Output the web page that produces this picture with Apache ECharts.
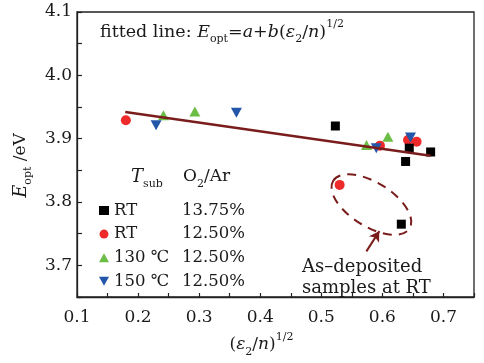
<!DOCTYPE html>
<html><head><meta charset="utf-8">
<script src="https://cdn.jsdelivr.net/npm/echarts@6/dist/echarts.min.js"></script>
<style>html,body{margin:0;padding:0;background:#fff}#c{width:484px;height:363px}</style>
</head><body><div id="c"></div>
<script>
// ---- data ----
const seriesNames = ['RT 13.75%', 'RT 12.50%', '130 ℃ 12.50%', '150 ℃ 12.50%'];
const rt1375X = [0.523, 0.644, 0.638, 0.679, 0.631];
const rt1375Y = [3.920, 3.885, 3.864, 3.879, 3.765];
const rt1250X = [0.180, 0.596, 0.642, 0.656, 0.530];
const rt1250Y = [3.929, 3.889, 3.898, 3.895, 3.827];
const t130X = [0.2415, 0.293, 0.574, 0.609];
const t130Y = [3.937, 3.943, 3.890, 3.903];
const t150X = [0.2295, 0.361, 0.590, 0.646];
const t150Y = [3.921, 3.941, 3.885, 3.902];
const fitX = [0.179, 0.679];
const fitY = [3.942, 3.873];
const xTickLabels = ['0.1', '0.2', '0.3', '0.4', '0.5', '0.6', '0.7'];
const yTickLabels = ['3.7', '3.8', '3.9', '4.0', '4.1'];
// annotation (data coords)
const ellipseCenter = [0.582, 3.796];
const arrowFrom = [0.5738, 3.722];
const arrowTo = [0.595, 3.754];

const zip = (xs, ys) => xs.map((x, i) => [x, ys[i]]);
const FF = 'DejaVu Serif';
const TC = '#1a1a1a';
const DARK = '#7a1c1c';

const chart = echarts.init(document.getElementById('c'), null, {renderer: 'canvas'});
const fmt = (list) => (v) => { const s = (Math.round(v * 100) / 100).toFixed(1); return (Math.abs(v * 10 - Math.round(v * 10)) < 1e-6 && list.includes(s)) ? s : ''; };

const option = {
  animation: false,
  backgroundColor: '#fff',
  grid: {left: 77, right: 10, top: 12, bottom: 58, show: true, borderColor: '#222', borderWidth: 1.3},
  xAxis: {
    type: 'value', min: 0.1, max: 0.75, interval: 0.05,
    splitLine: {show: false},
    axisLine: {show: true, lineStyle: {color: '#222', width: 1.3}},
    axisTick: {show: true, inside: true, length: 4, lineStyle: {color: '#222', width: 1.2}},
    axisLabel: {formatter: fmt(xTickLabels), fontFamily: FF, fontSize: 17, color: TC, margin: 12},
    name: '{p|(}{i|ε}{s|2}{p|/}{i|n}{p|)}{u|1/2}',
    nameLocation: 'middle', nameGap: 35,
    nameTextStyle: {
      padding: [0, 28, 0, 0],
      rich: {
        p: {fontFamily: FF, fontSize: 17, color: TC, lineHeight: 26},
        i: {fontFamily: FF, fontSize: 17, fontStyle: 'italic', color: TC, lineHeight: 26},
        s: {fontFamily: FF, fontSize: 11, color: TC, lineHeight: 12, verticalAlign: 'bottom'},
        u: {fontFamily: FF, fontSize: 11, color: TC, lineHeight: 12, verticalAlign: 'top'}
      }
    }
  },
  yAxis: {
    type: 'value', min: 3.65, max: 4.1, interval: 0.05,
    splitLine: {show: false},
    axisLine: {show: true, lineStyle: {color: '#222', width: 1.3}},
    axisTick: {show: true, inside: true, length: 5, lineStyle: {color: '#222', width: 1.2}},
    axisLabel: {formatter: fmt(yTickLabels), fontFamily: FF, fontSize: 17, color: TC, margin: 5},
    name: '{i|E}{s|opt}{p| /eV}',
    nameLocation: 'middle', nameGap: 43, nameRotate: 90,
    nameTextStyle: {
      padding: [0, 22, 0, 0],
      rich: {
        p: {fontFamily: FF, fontSize: 17, color: TC, lineHeight: 26},
        i: {fontFamily: FF, fontSize: 18, fontStyle: 'italic', color: TC, lineHeight: 26},
        s: {fontFamily: FF, fontSize: 11, color: TC, lineHeight: 12, verticalAlign: 'bottom'}
      }
    }
  },
  legend: {
    data: seriesNames, orient: 'vertical', left: 99, top: 201.5, padding: 0,
    itemGap: 5.6, itemWidth: 10, itemHeight: 9,
    formatter: (name) => { const k = name.lastIndexOf(' '); return '{a|' + name.slice(0, k) + '}{b|' + name.slice(k + 1) + '}'; },
    textStyle: {
      fontFamily: FF, fontSize: 16.5, color: TC, lineHeight: 18,
      rich: {
        a: {fontFamily: FF, fontSize: 16.5, color: TC, width: 68, lineHeight: 18},
        b: {fontFamily: FF, fontSize: 16.5, color: TC, lineHeight: 18}
      }
    }
  },
  series: [
    {name: seriesNames[1], type: 'scatter', symbol: 'circle', symbolSize: 10, itemStyle: {color: '#ee2a2a', opacity: 1}, data: zip(rt1250X, rt1250Y), z: 2},
    {name: seriesNames[0], type: 'scatter', symbol: 'rect', symbolSize: 9, itemStyle: {color: '#000', opacity: 1}, data: zip(rt1375X, rt1375Y), z: 3},
    {name: seriesNames[2], type: 'scatter', symbol: 'triangle', symbolSize: [11, 10], itemStyle: {color: '#6cbd45', opacity: 1}, data: zip(t130X, t130Y), z: 4},
    {name: seriesNames[3], type: 'scatter', symbol: 'path://M0,0L10,0L5,9Z', symbolSize: [11, 10], itemStyle: {color: '#2356a8', opacity: 1}, data: zip(t150X, t150Y), z: 5},
    {
      name: 'fit', type: 'line', data: zip(fitX, fitY), symbol: 'none', z: 6,
      lineStyle: {color: DARK, width: 2.5},
      markLine: {
        silent: true, symbol: ['none', 'arrow'], symbolSize: [9, 10],
        label: {show: false},
        lineStyle: {color: DARK, width: 2, type: 'solid'},
        data: [[{coord: arrowFrom}, {coord: arrowTo}]]
      }
    }
  ],
  graphic: [
    {
      type: 'text', left: 100, top: 19, z: 10,
      style: {
        text: '{p|fitted line: }{i|E}{s|opt}{p|=}{i|a}{p|+}{i|b}{p|(}{i|ε}{s|2}{p|/}{i|n}{p|)}{u|1/2}',
        rich: {
          p: {fontFamily: FF, fontSize: 17.5, fill: TC, lineHeight: 26},
          i: {fontFamily: FF, fontSize: 17.5, fontStyle: 'italic', fill: TC, lineHeight: 26},
          s: {fontFamily: FF, fontSize: 11, fill: TC, lineHeight: 12, verticalAlign: 'bottom'},
          u: {fontFamily: FF, fontSize: 11, fill: TC, lineHeight: 12, verticalAlign: 'top'}
        }
      }
    },
    {
      type: 'text', left: 131, top: 168, z: 10,
      style: {
        text: '{i|T}{s|sub}',
        rich: {
          i: {fontFamily: FF, fontSize: 18, fontStyle: 'italic', fill: TC, lineHeight: 26},
          s: {fontFamily: FF, fontSize: 11, fill: TC, lineHeight: 12, verticalAlign: 'bottom'}
        }
      }
    },
    {
      type: 'text', left: 183, top: 168, z: 10,
      style: {
        text: '{p|O}{s|2}{p|/Ar}',
        rich: {
          p: {fontFamily: FF, fontSize: 17, fill: TC, lineHeight: 26},
          s: {fontFamily: FF, fontSize: 11, fill: TC, lineHeight: 12, verticalAlign: 'bottom'}
        }
      }
    },
    {
      type: 'text', left: 302, top: 257, z: 10,
      style: {text: 'As–deposited\nsamples at RT', fontFamily: FF, fontSize: 18, fill: TC, lineHeight: 21, align: 'center', width: 130}
    }
  ]
};
chart.setOption(option);

const c = chart.convertToPixel({gridIndex: 0}, ellipseCenter);
chart.setOption({
  graphic: [{
    id: 'ellipse', type: 'ellipse', x: c[0], y: c[1], rotation: -32 * Math.PI / 180, z: 1,
    shape: {cx: 0, cy: 0, rx: 45, ry: 22},
    style: {fill: 'none', stroke: DARK, lineWidth: 2, lineDash: [9, 7]}
  }]
});
</script>
</body></html>
